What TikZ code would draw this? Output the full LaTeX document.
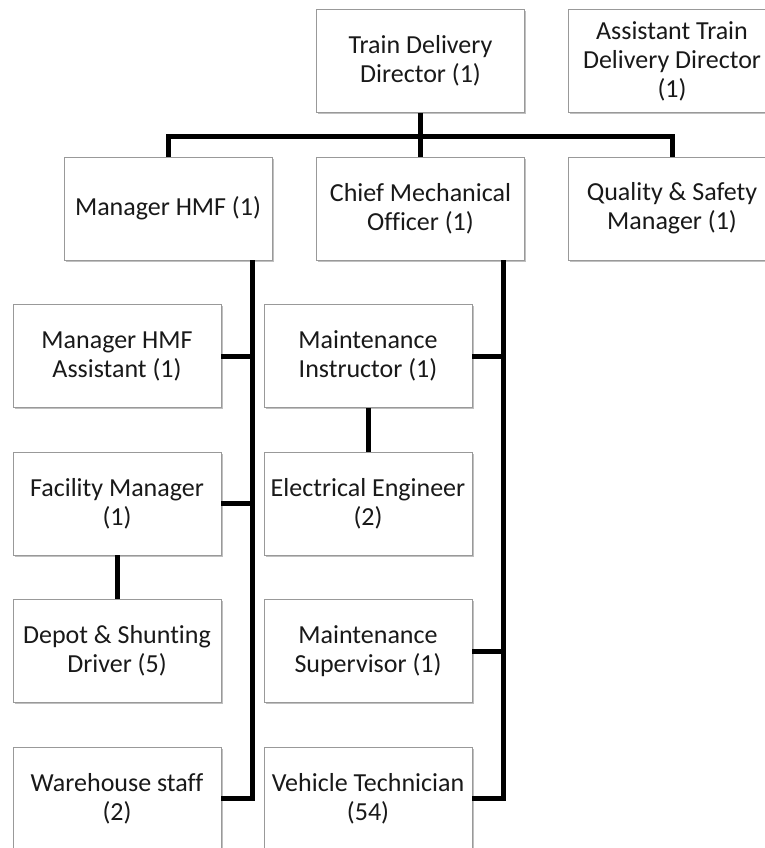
\documentclass[tikz,border=0pt]{standalone}
\usepackage{fontspec}
\setmainfont{Carlito}[Ligatures=NoCommon]
\usetikzlibrary{shadows}
\begin{document}
\begin{tikzpicture}[x=1pt,y=-1pt,
  role/.style={draw=black!40, line width=0.8pt, fill=white,
    minimum width=208pt, minimum height=103pt, inner sep=2pt,
    align=center, text=black!90,
    font=\fontsize{26}{29}\selectfont,
    drop shadow={shadow xshift=1.8pt, shadow yshift=-1.8pt, fill=black!35, opacity=0.7}},
  link/.style={line width=5pt, black, line join=miter}]
  \useasboundingbox (0,0) rectangle (764,848);
  \fill[white] (0,0) rectangle (764,848);

  % top row
  \node[role] (tdd)  at (420.5,61)  {Train Delivery\\Director (1)};
  \node[role] (atdd) at (672,61)    {Assistant Train\\Delivery Director\\(1)};
  % second row
  \node[role] (mhmf) at (168,208.5)   {Manager HMF (1)};
  \node[role] (cmo)  at (420.5,208.5) {Chief Mechanical\\Officer (1)};
  \node[role] (qsm)  at (672,208.5)   {Quality \& Safety\\Manager (1)};
  % HMF branch
  \node[role] (mha) at (117,356)   {Manager HMF\\Assistant (1)};
  \node[role] (fm)  at (117,503.5) {Facility Manager\\(1)};
  \node[role] (dsd) at (117,651)   {Depot \& Shunting\\Driver (5)};
  \node[role] (ws)  at (117,798.5) {Warehouse staff\\(2)};
  % mechanical branch
  \node[role] (mi) at (368,356)   {Maintenance\\Instructor (1)};
  \node[role] (ee) at (368,503.5) {Electrical Engineer\\(2)};
  \node[role] (ms) at (368,651)   {Maintenance\\Supervisor (1)};
  \node[role] (vt) at (368,798.5) {Vehicle Technician\\(54)};

  % bus and spine positions
  \coordinate (bus)  at (0,136);
  \coordinate (hmfx) at (252,0);
  \coordinate (cmx)  at (503,0);

  % director to second row
  \draw[link] (tdd.south) -- (cmo.north);
  \draw[link] (mhmf.north) -- (mhmf.north |- bus) -- (qsm.north |- bus) -- (qsm.north);

  % HMF spine
  \draw[link] (mhmf.south -| hmfx) |- (ws.east);
  \draw[link] (mha.east) -- (mha.east -| hmfx);
  \draw[link] (fm.east) -- (fm.east -| hmfx);
  \draw[link] (fm.south) -- (dsd.north);

  % mechanical spine
  \draw[link] (cmo.south -| cmx) |- (vt.east);
  \draw[link] (mi.east) -- (mi.east -| cmx);
  \draw[link] (ms.east) -- (ms.east -| cmx);
  \draw[link] (mi.south) -- (ee.north);
\end{tikzpicture}
\end{document}
